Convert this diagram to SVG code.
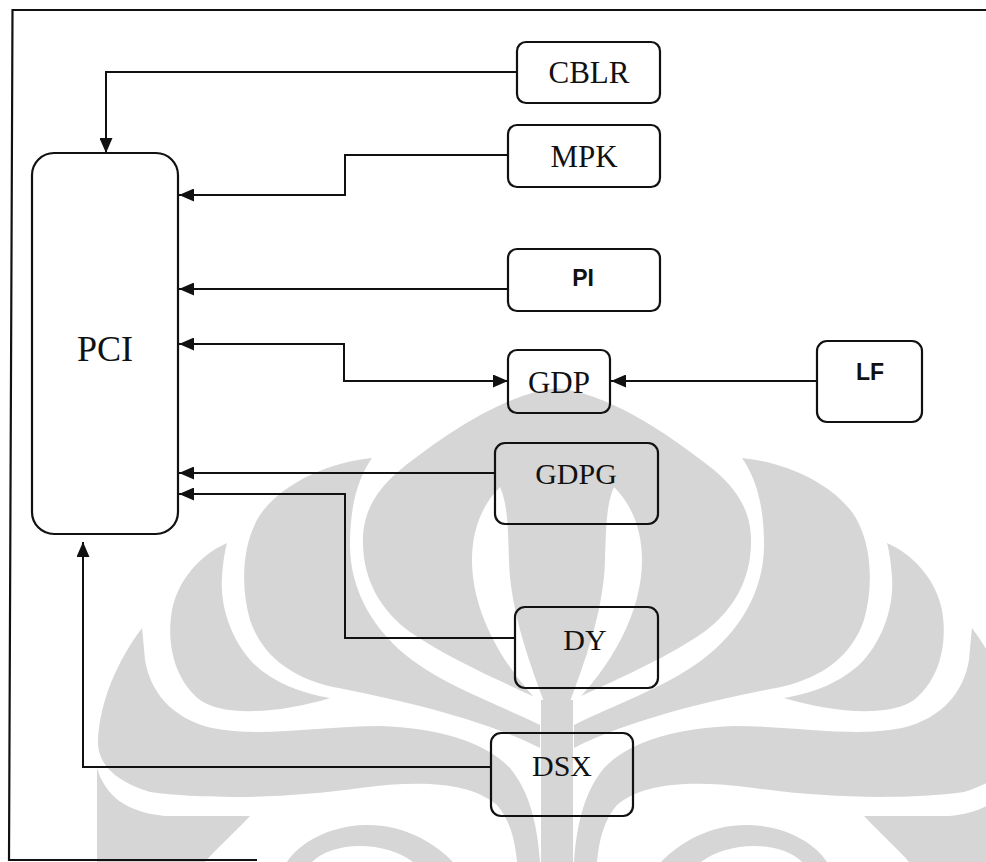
<svg xmlns="http://www.w3.org/2000/svg" width="986" height="862" viewBox="0 0 986 862">
<style>
.wm{fill:#d6d6d6}
.gap{fill:#ffffff}
.box{fill:none;stroke:#111;stroke-width:2.2}
.ln{fill:none;stroke:#111;stroke-width:2}
.frame{fill:none;stroke:#111;stroke-width:2.2}
.serif{font-family:"Liberation Serif","Times New Roman",serif;fill:#111;text-anchor:middle}
.sans{font-family:"Liberation Sans",Arial,sans-serif;font-weight:bold;fill:#111;text-anchor:middle}
</style>
<defs>
<marker id="ah" markerUnits="userSpaceOnUse" markerWidth="15" markerHeight="13" refX="15" refY="6.5" orient="auto-start-reverse" viewBox="0 0 15 13">
<path d="M0,0 L15,6.5 L0,13 Z" fill="#111"/>
</marker>
<g id="wmhalf">
<path class="wm" d="M558,388 C510,392 450,430 400,470 C370,495 362,520 363,545 C364,580 380,610 410,632 C450,660 510,685 558,708 Z"/>
<path class="gap" d="M500,487 C482,505 472,530 472,560 C472,610 500,665 548,712 C530,665 510,610 509,560 C508,530 508,505 500,487 Z"/>
<path class="wm" d="M372,458 C330,462 285,482 262,512 C242,540 240,585 250,620 C262,655 290,677 333,687 C400,700 480,718 540,748 L540,725 C500,705 450,688 412,660 C375,632 350,592 350,545 C350,505 358,478 372,458 Z"/>
<path class="wm" d="M227,543 C200,555 178,580 172,610 C166,645 175,680 200,700 C225,718 285,712 330,698 C300,693 272,682 252,662 C230,638 220,605 222,577 C223,562 225,550 227,543 Z"/>
<path class="wm" d="M142,628 C118,660 100,700 98,740 C97,760 110,780 150,792 C210,800 290,798 360,788 C420,780 470,782 497,805 C510,820 515,840 517,862 L540,862 C537,820 528,790 510,768 C485,742 440,728 380,726 C320,726 260,738 212,728 C170,718 150,690 145,660 C144,648 143,638 142,628 Z"/>
<path class="wm" d="M97,768 C105,795 125,812 165,816 L250,816 C232,835 215,850 205,862 L97,862 Z"/>
<path class="wm" d="M287,862 C300,842 330,826 365,825 C400,824 432,840 453,862 L413,862 C400,852 380,846 360,846 C340,846 322,852 312,862 Z"/>
<path class="wm" d="M541,700 L558,700 L558,862 L541,862 Z"/>
</g>
</defs>
<rect width="986" height="862" fill="#ffffff"/>
<g id="watermark">
<use href="#wmhalf"/>
<use href="#wmhalf" transform="matrix(-1 0 0 1 1114 0)"/>
</g>
<g id="frame">
<path class="frame" d="M986,10 L12.5,10 L9,860 L257,860"/>
</g>
<g id="connectors">
<path class="ln" d="M517,72 H106 V153" marker-end="url(#ah)"/>
<path class="ln" d="M508,155 H345 V195 H179" marker-end="url(#ah)"/>
<path class="ln" d="M508,289 H179" marker-end="url(#ah)"/>
<path class="ln" d="M179,344 H344 V381 H508" marker-start="url(#ah)" marker-end="url(#ah)"/>
<path class="ln" d="M817,381 H611" marker-end="url(#ah)"/>
<path class="ln" d="M495,473 H179" marker-end="url(#ah)"/>
<path class="ln" d="M515,638 H345 V494 H179" marker-end="url(#ah)"/>
<path class="ln" d="M491,767 H83 V542" marker-end="url(#ah)"/>
</g>
<g id="PCI">
<rect class="box" x="32" y="153" width="146" height="381" rx="22"/>
<text class="serif" x="105" y="361" font-size="36">PCI</text>
</g>
<g id="CBLR">
<rect class="box" x="517" y="42" width="143" height="61" rx="9"/>
<text class="serif" x="589" y="83" font-size="31">CBLR</text>
</g>
<g id="MPK">
<rect class="box" x="508" y="125" width="152" height="62" rx="9"/>
<text class="serif" x="584" y="167" font-size="31">MPK</text>
</g>
<g id="PI">
<rect class="box" x="508" y="249" width="152" height="62" rx="9"/>
<text class="sans" x="583" y="286" font-size="23">PI</text>
</g>
<g id="GDP">
<rect class="box" x="508" y="350" width="102" height="63" rx="9"/>
<text class="serif" x="559" y="393" font-size="31" fill="#333">GDP</text>
</g>
<g id="LF">
<rect class="box" x="817" y="341" width="105" height="81" rx="10"/>
<text class="sans" x="870" y="380" font-size="23">LF</text>
</g>
<g id="GDPG">
<rect class="box" x="495" y="443" width="163" height="81" rx="10"/>
<text class="serif" x="576" y="484" font-size="30">GDPG</text>
</g>
<g id="DY">
<rect class="box" x="515" y="607" width="143" height="81" rx="10"/>
<text class="serif" x="585" y="650" font-size="30">DY</text>
</g>
<g id="DSX">
<rect class="box" x="491" y="733" width="142" height="83" rx="10"/>
<text class="serif" x="562" y="776" font-size="30">DSX</text>
</g>
</svg>
